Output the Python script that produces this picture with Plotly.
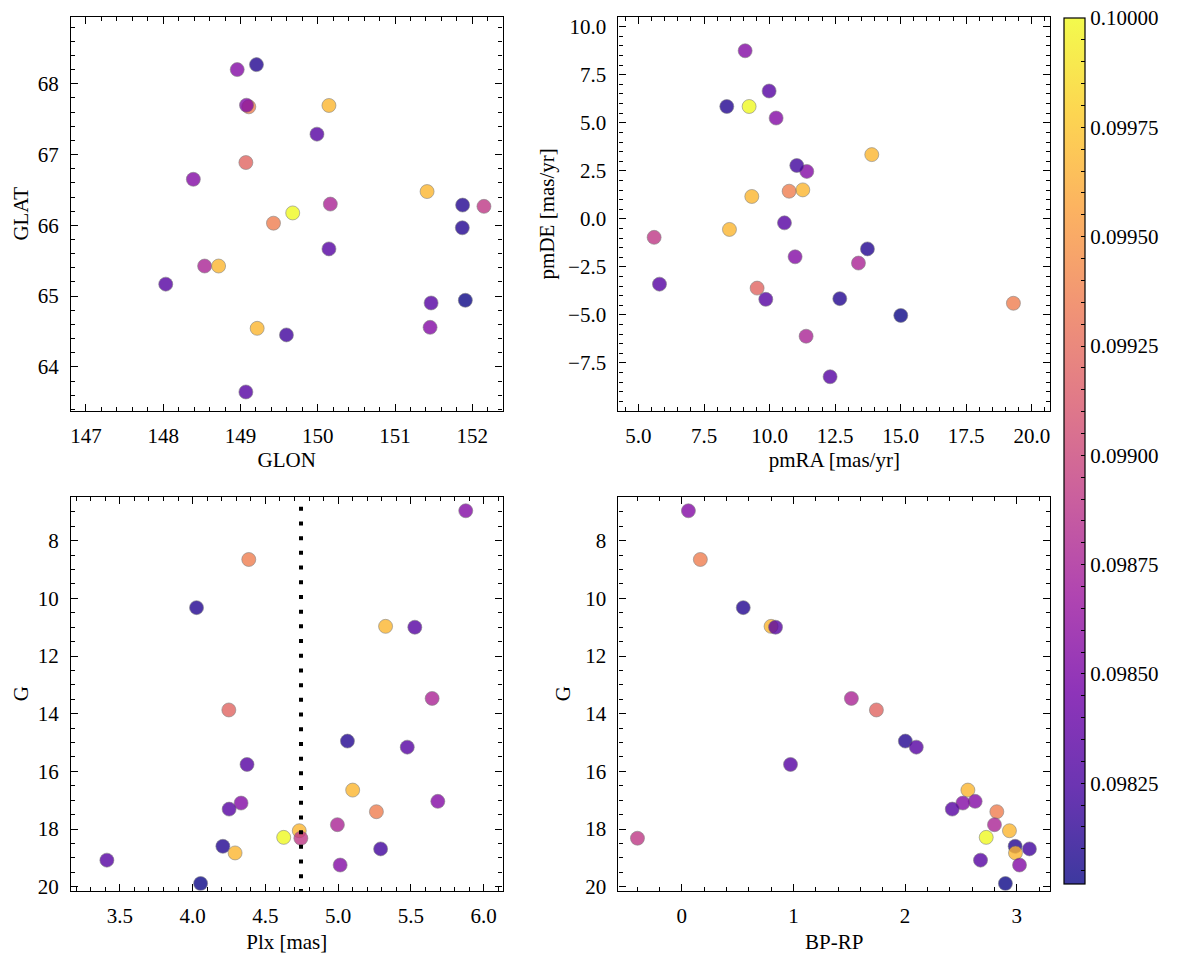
import plotly.graph_objects as go
from plotly.subplots import make_subplots
import plotly.colors as pc

# ---------------- data (one entry per star) ----------------
glon = [148.958, 149.108, 149.207, 150.145, 149.990, 148.536, 149.070, 151.875, 150.145, 148.033,
        151.415, 148.390, 149.078, 151.467, 149.427, 150.163, 148.717, 149.676, 152.151, 151.871,
        149.216, 149.595, 149.070, 151.454, 151.910]
glat = [68.200, 67.674, 68.270, 67.693, 67.288, 65.425, 66.887, 66.286, 65.667, 65.169,
        66.477, 66.650, 67.697, 64.903, 66.030, 66.300, 65.425, 66.175, 66.268, 65.965,
        64.545, 64.452, 63.646, 64.559, 64.941]
pmra = [9.068, 19.300, 8.368, 13.898, 9.983, 11.394, 9.525, 13.733, 5.801, 10.568,
        11.267, 10.250, 11.419, 9.856, 10.746, 13.390, 9.322, 9.220, 5.597, 12.678,
        8.470, 11.038, 12.309, 10.974, 15.004]
pmde = [8.749, -4.394, 5.848, 3.344, 6.655, -6.109, -3.604, -1.563, -3.399, -0.208,
        1.508, 5.248, 2.469, -4.188, 1.439, -2.301, 1.165, 5.848, -0.962, -4.153,
        -0.551, 2.777, -8.219, -1.975, -5.028]
plx = [5.877, 4.386, 4.027, 5.326, 5.527, 5.646, 4.249, 5.064, 5.475, 4.374,
       5.100, 5.685, 4.333, 4.251, 5.263, 4.995, 4.733, 4.626, 4.744, 4.208,
       4.292, 5.292, 3.411, 5.014, 4.055]
gmag = [6.96, 8.65, 10.32, 10.97, 11.00, 13.47, 13.87, 14.95, 15.16, 15.76,
        16.65, 17.04, 17.10, 17.31, 17.40, 17.85, 18.06, 18.29, 18.32, 18.60,
        18.83, 18.69, 19.08, 19.25, 19.89]
bp_rp = [0.060, 0.167, 0.551, 0.800, 0.840, 1.519, 1.743, 2.002, 2.100, 0.974,
         2.562, 2.627, 2.517, 2.422, 2.821, 2.800, 2.934, 2.726, -0.396, 2.985,
         2.988, 3.113, 2.675, 3.024, 2.898]
cval = [0.09855, 0.09937, 0.09810, 0.09968, 0.09832, 0.09877, 0.09921, 0.09810, 0.09832, 0.09832,
        0.09968, 0.09855, 0.09855, 0.09832, 0.09937, 0.09877, 0.09968, 0.10000, 0.09891, 0.09810,
        0.09968, 0.09822, 0.09832, 0.09855, 0.09802]

plx_cut = 4.745
cut_g = [6.82, 20.3]

c_min, c_max = 0.09802, 0.1000005
cbar_major = [0.09825, 0.09850, 0.09875, 0.09900, 0.09925, 0.09950, 0.09975, 0.10000]

# ---------------- figure ----------------
W, H = 1177, 965
FONT = "Liberation Serif"
FS = 21
ALPHA = 0.8

# plasma as seen through the markers' alpha (for the colorbar)
plasma = pc.sequential.Plasma
faded = []
for i, col in enumerate(plasma):
    r, g, b = pc.hex_to_rgb(col)
    fr = [round(ALPHA * v + (1 - ALPHA) * 255) for v in (r, g, b)]
    faded.append([i / (len(plasma) - 1), f"rgb({fr[0]},{fr[1]},{fr[2]})"])

fig = make_subplots(rows=2, cols=2)


def add(x, y, r, c):
    fig.add_trace(go.Scatter(
        x=x, y=y, mode="markers",
        marker=dict(size=14, color=cval, coloraxis="coloraxis", opacity=ALPHA,
                    line=dict(width=0.6, color="#666666")),
        showlegend=False, hoverinfo="skip"), row=r, col=c)


add(glon, glat, 1, 1)
add(pmra, pmde, 1, 2)
add(plx, gmag, 2, 1)
add(bp_rp, gmag, 2, 2)

# invisible carrier of the (faded) colorbar
fig.add_trace(go.Scatter(
    x=glon, y=glat, mode="markers",
    marker=dict(size=14, color=cval, coloraxis="coloraxis2", opacity=0),
    showlegend=False, hoverinfo="skip"), row=1, col=1)

fig.add_trace(go.Scatter(x=[plx_cut, plx_cut], y=cut_g, mode="lines",
                         line=dict(color="black", width=4, dash="4px,10.7px"),
                         showlegend=False, hoverinfo="skip"), row=2, col=1)


def xd(a, b):
    return [a / W, b / W]


def yd(top, bot):
    return [1 - bot / H, 1 - top / H]


xl = xd(70, 502)
xr = xd(618, 1050)
yt = yd(15, 413)
yb = yd(500, 898)


def ax_style(minor_dtick, standoff, **kw):
    d = dict(showline=True, linecolor="black", linewidth=1.2, mirror="allticks",
             ticks="inside", ticklen=7, tickwidth=1.2, tickcolor="black",
             showgrid=False, zeroline=False,
             tickfont=dict(family=FONT, size=FS, color="black"),
             minor=dict(ticks="inside", ticklen=4, tickwidth=1, tickcolor="black",
                        dtick=minor_dtick, showgrid=False),
             title=dict(font=dict(family=FONT, size=FS, color="black"), standoff=standoff))
    d.update(kw)
    return d


fig.update_layout(
    width=W, height=H,
    margin=dict(l=0, r=0, t=0, b=0),
    paper_bgcolor="white", plot_bgcolor="white",
    font=dict(family=FONT, size=FS, color="black"),
    xaxis=ax_style(0.2, 2, domain=xl, range=[146.806, 152.392], dtick=1, tick0=0,
                   title_text="GLON", ticklabelstandoff=6),
    yaxis=ax_style(0.2, 3, domain=yt, range=[63.381, 68.945], dtick=1, tick0=0,
                   title_text="GLAT", ticklabelstandoff=7),
    xaxis2=ax_style(0.5, 2, domain=xr, range=[4.237, 20.70], dtick=2.5, tick0=0,
                    tickformat=".1f", title_text="pmRA [mas/yr]", ticklabelstandoff=6),
    yaxis2=ax_style(0.5, 7, domain=yt, range=[-9.987, 10.515], dtick=2.5, tick0=0,
                    tickformat=".1f", title_text="pmDE [mas/yr]", ticklabelstandoff=7),
    xaxis3=ax_style(0.1, 7, domain=xl, range=[3.164, 6.13], dtick=0.5, tick0=0,
                    tickformat=".1f", title_text="Plx [mas]", ticklabelstandoff=6),
    yaxis3=ax_style(0.5, 3, domain=yb, range=[20.14, 6.476], dtick=2, tick0=0,
                    title_text="G", ticklabelstandoff=7),
    xaxis4=ax_style(0.2, 7, domain=xr, range=[-0.566, 3.298], dtick=1, tick0=0,
                    title_text="BP-RP", ticklabelstandoff=6),
    yaxis4=ax_style(0.5, 8, domain=yb, range=[20.14, 6.476], dtick=2, tick0=0,
                    title_text="G", ticklabelstandoff=7),
)

# colorbar ticks: majors labelled, minors (every 0.00005) unlabelled
cb_vals, cb_text = [], []
for k in range(1961, 2001):
    v = round(k * 0.00005, 6)
    cb_vals.append(v)
    lab = ""
    for mj in cbar_major:
        if abs(mj - v) < 1e-9:
            lab = f"{mj:.5f}"
    cb_text.append(lab)

fig.update_layout(
    coloraxis=dict(colorscale="Plasma", cmin=c_min, cmax=c_max, showscale=False),
    coloraxis2=dict(
        colorscale=faded, cmin=c_min, cmax=c_max,
        colorbar=dict(
            x=1064 / W, xanchor="left", xpad=0, ypad=0,
            y=1 - 16 / H, yanchor="top", lenmode="pixels", len=866,
            thicknessmode="pixels", thickness=21,
            outlinewidth=1.2, outlinecolor="black",
            ticks="inside", ticklen=4, tickwidth=1, tickcolor="black",
            tickmode="array", tickvals=cb_vals, ticktext=cb_text,
            ticklabeloverflow="allow",
            tickfont=dict(family=FONT, size=FS, color="black"),
        )))

fig.write_html("out.html",
               config={"displayModeBar": False},
               post_script="document.body.style.margin='0';"
                           "document.body.style.overflow='hidden';")
